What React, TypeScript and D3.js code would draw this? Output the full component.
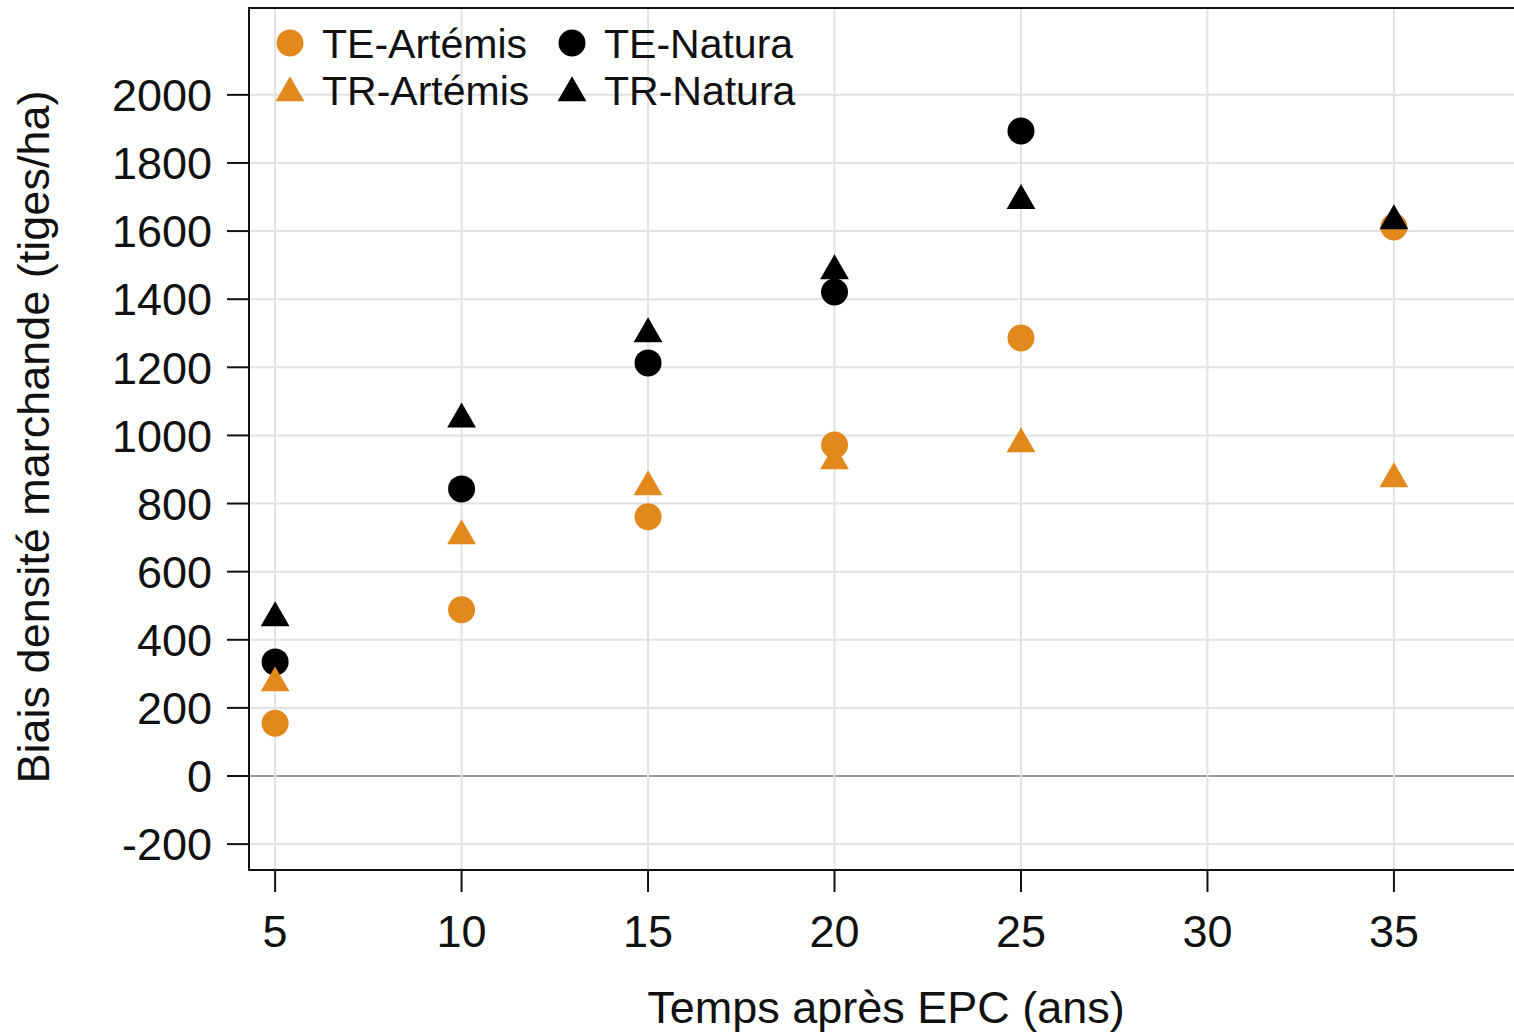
import * as d3 from 'd3'

const years = [5, 10, 15, 20, 25, 35]
const teArtemis = [155, 488, 761, 972, 1286, 1612]
const teNatura = [335, 843, 1213, 1421, 1894, null]
const trArtemis = [273, 705, 849, 925, 975, 872]
const trNatura = [464, 1048, 1298, 1483, 1689, 1630]

const xTicks = [5, 10, 15, 20, 25, 30, 35]
const yTicks = [-200, 0, 200, 400, 600, 800, 1000, 1200, 1400, 1600, 1800, 2000]

const ORANGE = '#E2891E'
const BLACK = '#000000'

interface Series {
  name: string
  values: (number | null)[]
  color: string
  shape: 'circle' | 'triangle'
}

const series: Series[] = [
  { name: 'TE-Artémis', values: teArtemis, color: ORANGE, shape: 'circle' },
  { name: 'TE-Natura', values: teNatura, color: BLACK, shape: 'circle' },
  { name: 'TR-Artémis', values: trArtemis, color: ORANGE, shape: 'triangle' },
  { name: 'TR-Natura', values: trNatura, color: BLACK, shape: 'triangle' },
]

const W = 1514
const H = 1036
const left = 249
const top = 8
const bottom = 870
const right = 1517

const font = '"Liberation Sans", Arial, sans-serif'

const triangle = d3.symbol().type(d3.symbolTriangle).size(360)()
const R = 13.5

function Marker({ shape, color, x, y }: { shape: string; color: string; x: number; y: number }) {
  if (shape === 'circle') return <circle cx={x} cy={y} r={R} fill={color} />
  return <path d={triangle ?? ''} transform={`translate(${x},${y})`} fill={color} />
}

export default function App() {
  const x = d3.scaleLinear().domain([4.3, 38.3]).range([left, right])
  const y = d3.scaleLinear().domain([-276, 2255]).range([bottom, top])

  return (
    <div style={{ position: 'absolute', left: 0, top: 0 }}>
      <svg width={W} height={H} style={{ display: 'block', background: '#fff' }} fontFamily={font}>
        <rect x={0} y={0} width={W} height={H} fill="#fff" />
        {/* grid */}
        {yTicks.map(t => (
          <line key={'gy' + t} x1={left} x2={right} y1={y(t)} y2={y(t)}
            stroke={t === 0 ? '#7a7a7a' : '#e2e2e2'} strokeWidth={t === 0 ? 1.5 : 2} />
        ))}
        {xTicks.map(t => (
          <line key={'gx' + t} x1={x(t)} x2={x(t)} y1={top} y2={bottom} stroke="#e2e2e2" strokeWidth={2} />
        ))}
        {/* frame */}
        <rect x={left} y={top} width={right - left} height={bottom - top} fill="none" stroke="#111" strokeWidth={2} />
        {/* y axis */}
        {yTicks.map(t => (
          <g key={'ty' + t}>
            <line x1={left - 22} x2={left} y1={y(t)} y2={y(t)} stroke="#111" strokeWidth={2} />
            <text x={212} y={y(t)} dy="0.36em" textAnchor="end" fontSize={45} fill="#111">{t}</text>
          </g>
        ))}
        {/* x axis */}
        {xTicks.map(t => (
          <g key={'tx' + t}>
            <line x1={x(t)} x2={x(t)} y1={bottom} y2={bottom + 22} stroke="#111" strokeWidth={2} />
            <text x={x(t)} y={947} textAnchor="middle" fontSize={45} fill="#111">{t}</text>
          </g>
        ))}
        <text x={886} y={1023} textAnchor="middle" fontSize={45} fill="#111">Temps après EPC (ans)</text>
        <text transform={`translate(49,437) rotate(-90)`} textAnchor="middle" fontSize={45} fill="#111">
          Biais densité marchande (tiges/ha)
        </text>
        {/* points */}
        {series.map(s => (
          <g key={s.name}>
            {s.values.map((v, i) => v == null ? null : (
              <Marker key={i} shape={s.shape} color={s.color} x={x(years[i])} y={y(v)} />
            ))}
          </g>
        ))}
        {/* legend */}
        {series.map((s, i) => {
          const col = i % 2
          const row = Math.floor(i / 2)
          const sx = 290 + col * 282
          const sy = 43 + row * 47
          return (
            <g key={'lg' + s.name}>
              <Marker shape={s.shape} color={s.color} x={sx} y={s.shape === 'triangle' ? sy + 3 : sy} />
              <text x={sx + 32} y={sy} dy="0.36em" fontSize={41} fill="#111">{s.name}</text>
            </g>
          )
        })}
      </svg>
    </div>
  )
}
